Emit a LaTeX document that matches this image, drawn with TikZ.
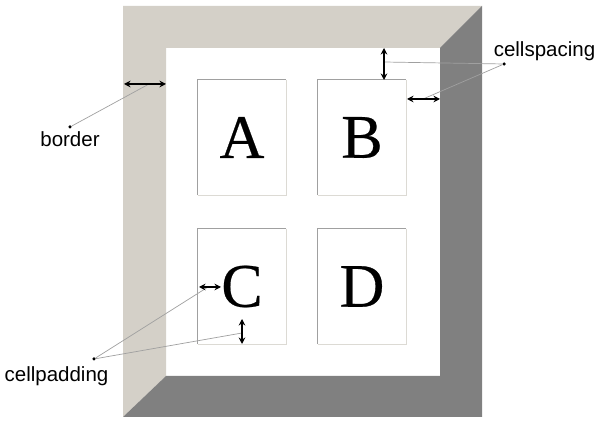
\documentclass[tikz,border=0pt]{standalone}
\usepackage{fontspec}
\setmainfont{Liberation Sans}
\newfontfamily\letterfont[FakeBold=0.4]{Liberation Serif}
\usetikzlibrary{arrows.meta}
\definecolor{framelight}{RGB}{212,208,200}
\definecolor{framedark}{RGB}{128,128,128}
\definecolor{cellhi}{RGB}{160,160,160}
\definecolor{celllo}{RGB}{220,218,212}
\definecolor{leader}{RGB}{160,160,160}
\begin{document}
\begin{tikzpicture}[x=1pt,y=-1pt,
  cell/.style={minimum width=88pt,minimum height=115pt,inner sep=0pt,
    font=\letterfont\fontsize{62}{62}\selectfont},
  hiedge/.style={draw=cellhi,line width=1pt},
  loedge/.style={draw=celllo,line width=1pt},
  dim/.style={{Stealth[length=6.5pt,width=6.5pt]}-{Stealth[length=6.5pt,width=6.5pt]},line width=1.3pt,black},
  leaderline/.style={draw=leader,line width=0.7pt},
  dot/.style={circle,fill=black,inner sep=0pt,minimum size=3.5pt},
  lbl/.style={font=\fontsize{20.5}{22}\selectfont,anchor=base,inner sep=0pt}]
\useasboundingbox (0,0) rectangle (600,427);
\fill[white] (0,0) rectangle (600,427);
% frame
\fill[framelight] (123,6) -- (482,6) -- (440,48) -- (166,48) -- (166,376) -- (123,417) -- cycle;
\fill[framedark] (482,6) -- (482,417) -- (123,417) -- (166,376) -- (440,376) -- (440,48) -- cycle;
% cells
\node[cell] (A) at (242,137.5) {A};
\node[cell] (B) at (362,137.5) {B};
\node[cell] (C) at (242,286.5) {C};
\node[cell] (D) at (362,286.5) {D};
\foreach \n in {A,B,C,D}{
  \draw[hiedge] (\n.south west) -- (\n.north west) -- (\n.north east);
  \draw[loedge] (\n.north east) -- (\n.south east) -- (\n.south west);
}
% arrow end points
\coordinate (b1) at (124,84);
\coordinate (b2) at (166,84);
\coordinate (bm) at (149,84);
\coordinate (sv1) at (384,48);
\coordinate (sv2) at (384,80);
\coordinate (svm) at (384,62);
\coordinate (sh1) at (407,99);
\coordinate (sh2) at (440,99);
\coordinate (shm) at (423,99);
\coordinate (ph1) at (199,287);
\coordinate (ph2) at (221,287);
\coordinate (phm) at (208,287);
\coordinate (pv1) at (242,319);
\coordinate (pv2) at (242,344);
\coordinate (pvm) at (242,333);
% labels and dots
\node[lbl] (border) at (70,147) {border};
\node[lbl] (cellspacing) at (544.5,57) {cellspacing};
\node[lbl] (cellpadding) at (56.5,382) {cellpadding};
\node[dot] (bd) at (70,127) {};
\node[dot] (sd) at (504,64) {};
\node[dot] (pd) at (94,359) {};
% leader lines
\draw[leaderline] (bd) -- (bm);
\draw[leaderline] (sd) -- (svm);
\draw[leaderline] (sd) -- (shm);
\draw[leaderline] (pd) -- (phm);
\draw[leaderline] (pd) -- (pvm);
% dimension arrows
\draw[dim] (b1) -- (b2);
\draw[dim] (sv1) -- (sv2);
\draw[dim] (sh1) -- (sh2);
\draw[dim] (ph1) -- (ph2);
\draw[dim] (pv1) -- (pv2);
\end{tikzpicture}
\end{document}
